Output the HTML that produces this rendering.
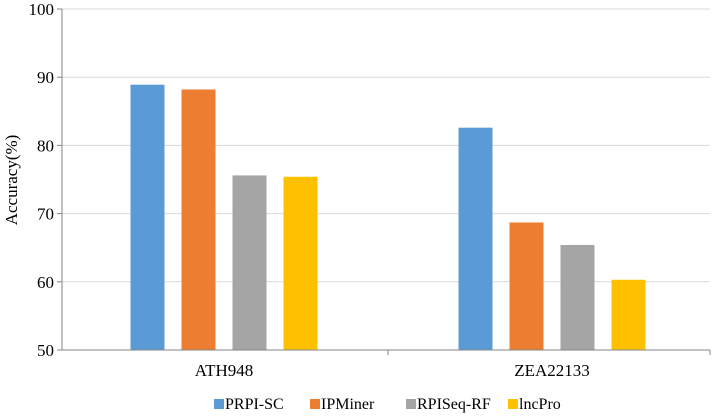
<!DOCTYPE html>
<html><head><meta charset="utf-8"><style>
body{margin:0;background:#fff;width:712px;height:414px;overflow:hidden}
svg text{font-family:"Liberation Serif","Times New Roman",serif !important}
</style></head><body>
<svg id="c" width="712" height="414" font-family="'Liberation Serif', serif"></svg>
<script>
const categories=["ATH948","ZEA22133"];
const seriesNames=["PRPI-SC","IPMiner","RPISeq-RF","lncPro"];
const prpiSc=[88.9,82.6];
const ipMiner=[88.2,68.7];
const rpiSeqRf=[75.6,65.4];
const lncPro=[75.4,60.3];
const yTicks=[50,60,70,80,90,100];
const colors=["#5b9bd5","#ed7d31","#a5a5a5","#ffc000"];
const series=[prpiSc,ipMiner,rpiSeqRf,lncPro];
const svg=document.getElementById('c');const NS="http://www.w3.org/2000/svg";
const X0=62,X1=710,Y0=350,Y1=9;
const y=v=>Y0-(v-50)/(100-50)*(Y0-Y1);
const cw=328;
const FF="Liberation Serif, serif";
function mk(t,a,p){const e=document.createElementNS(NS,t);for(const k in a)e.setAttribute(k,a[k]);(p||svg).appendChild(e);return e;}
yTicks.forEach(t=>{
 if(t>50){const g=mk('line',{x1:X0,x2:X1,y1:y(t),y2:y(t),stroke:'#d9d9d9','stroke-width':1});
 
 }
 const tk=mk('line',{x1:X0-5,x2:X0,y1:y(t),y2:y(t),stroke:'#868686'});
 
 
 const l=mk('text',{x:X0-8,y:y(t)+6,'text-anchor':'end','font-size':17,'font-family':FF});l.textContent=t;
 
 
});
categories.forEach((c,i)=>{
 const cx=X0+cw*(i+0.5)-2;
 series.forEach((s,j)=>{
  const bx=cx-102+8.5+j*51;
  const r=mk('rect',{x:bx,y:y(s[i]),width:34,height:Y0-y(s[i]),fill:colors[j]});
  
  
 });
 const l=mk('text',{x:cx,y:376,'text-anchor':'middle','font-size':17,'font-family':FF});l.textContent=c;
 
 
 const tx=Math.min(X1,X0+cw*(i+1)-2);
 const tk=mk('line',{x1:tx,x2:tx,y1:Y0,y2:Y0+5,stroke:'#868686'});
 
 
});
const ya=mk('line',{x1:X0,x2:X0,y1:Y1,y2:Y0,stroke:'#868686'});


const xa=mk('line',{x1:X0,x2:X1,y1:Y0,y2:Y0,stroke:'#868686'});


const yt=mk('text',{x:0,y:0,'text-anchor':'middle','font-size':17,'font-family':FF,transform:'translate(17,180) rotate(-90)'});yt.textContent='Accuracy(%)';


const lx=[214,310,406,508];
seriesNames.forEach((n,j)=>{
 const g=mk('g',{});
 
 
 mk('rect',{x:lx[j],y:399,width:10,height:10,fill:colors[j]},g);
 const t=mk('text',{x:lx[j]+11,y:409,'font-size':16,'font-family':FF},g);t.textContent=n;
});
</script></body></html>
